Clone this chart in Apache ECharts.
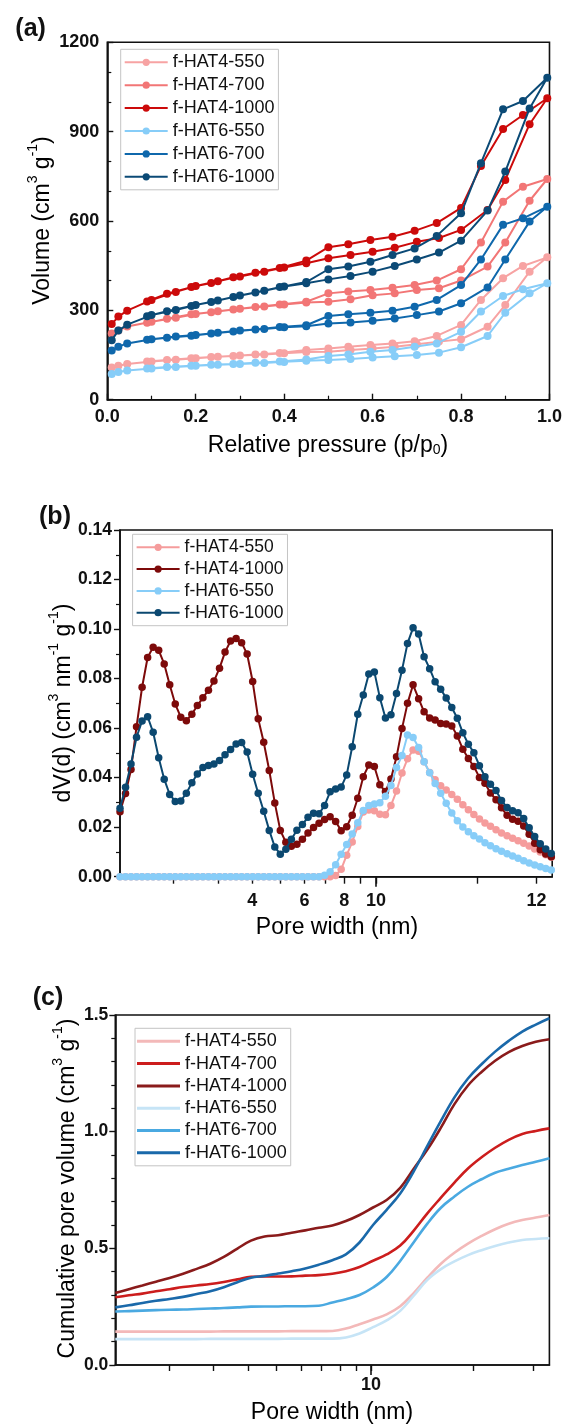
<!DOCTYPE html>
<html>
<head>
<meta charset="utf-8">
<script src="https://cdn.jsdelivr.net/npm/echarts@6/dist/echarts.min.js"></script>
<style>
  html, body { margin: 0; padding: 0; background: #fff; }
  #chart { width: 565px; height: 1425px; }
</style>
</head>
<body>
<div id="chart"></div>
<script>
// ---------- (a) N2 sorption isotherms ----------
const adsP = [0.01, 0.025, 0.045, 0.1, 0.155, 0.2, 0.25, 0.3, 0.355, 0.4, 0.45, 0.5, 0.55, 0.6, 0.65, 0.7, 0.75, 0.8, 0.86, 0.9, 0.955, 0.995];
const desP = [0.94, 0.895, 0.845, 0.8, 0.745, 0.695, 0.645, 0.595, 0.545, 0.5, 0.45, 0.39, 0.335, 0.285, 0.235, 0.19, 0.135, 0.09];

const adsHAT4_550  = [108, 114, 120, 128, 134, 139, 144, 148, 152, 156, 160, 161, 167, 172, 178, 186, 195, 203, 245, 318, 430, 478];
const desHAT4_550  = [449, 408, 335, 251, 214, 196, 189, 184, 178, 172, 167, 157, 152, 147, 143, 139, 133, 128];
const adsHAT4_700  = [222, 232, 246, 262, 275, 288, 297, 305, 313, 320, 326, 329, 337, 351, 357, 368, 374, 400, 447, 528, 668, 741];
const desHAT4_700  = [715, 665, 528, 438, 400, 385, 376, 368, 363, 357, 329, 320, 311, 303, 294, 287, 272, 258];
const adsHAT4_1000 = [254, 279, 299, 335, 362, 382, 398, 414, 430, 444, 458, 475, 486, 497, 510, 530, 543, 570, 637, 738, 925, 1012];
const desHAT4_1000 = [956, 909, 785, 644, 593, 567, 547, 536, 522, 512, 467, 442, 426, 411, 392, 378, 356, 330];
const adsHAT6_550  = [86, 93, 98, 105, 110, 114, 117, 120, 123, 127, 131, 133, 137, 142, 146, 150, 158, 176, 214, 292, 357, 391];
const desHAT6_550  = [371, 348, 296, 228, 189, 178, 167, 161, 152, 147, 135, 128, 124, 120, 117, 114, 110, 105];
const adsHAT6_700  = [165, 178, 189, 203, 212, 217, 225, 232, 237, 243, 247, 256, 259, 265, 273, 284, 296, 324, 377, 471, 598, 648];
const desHAT6_700  = [609, 587, 471, 385, 335, 312, 299, 292, 287, 281, 250, 244, 236, 229, 222, 215, 208, 201];
const adsHAT6_1000 = [200, 232, 252, 284, 301, 318, 333, 350, 366, 380, 391, 404, 415, 430, 449, 471, 494, 534, 635, 766, 978, 1081];
const desHAT6_1000 = [1003, 975, 794, 626, 550, 508, 486, 463, 447, 438, 395, 378, 360, 345, 328, 315, 297, 280];

const pressureTicks = [0, 1, 0.2];      // min, max, interval
const volumeTicks = [0, 1200, 300];

// ---------- (b) pore size distribution ----------
const poreB = [1.735, 1.802, 1.871, 1.943, 2.018, 2.096, 2.177, 2.261, 2.348, 2.438,
  2.532, 2.630, 2.732, 2.837, 2.946, 3.060, 3.178, 3.300, 3.428, 3.560,
  3.697, 3.840, 3.988, 4.141, 4.301, 4.467, 4.639, 4.818, 5.004, 5.196,
  5.397, 5.605, 5.821, 6.045, 6.281, 6.523, 6.774, 7.036, 7.307, 7.588,
  7.881, 8.185, 8.500, 8.829, 9.169, 9.522, 9.890, 10.27, 10.67, 11.08,
  11.51, 11.95, 12.41, 12.89, 13.39, 13.90, 14.44, 14.99, 15.57, 16.17,
  16.80, 17.45, 18.12, 18.82, 19.54, 20.30, 21.08, 21.89, 22.74, 23.61,
  24.53, 25.47, 26.45, 27.48, 28.53, 29.63, 30.78, 31.96, 33.19];

const dvHAT4_550 = [0, 0, 0, 0, 0, 0, 0, 0, 0, 0,
  0, 0, 0, 0, 0, 0, 0, 0, 0, 0,
  0, 0, 0, 0, 0, 0, 0, 0, 0, 0,
  0, 0, 0, 0, 0, 0, 0, 0, 0, 0.0005,
  0.0030, 0.0087, 0.0140, 0.0203, 0.0261, 0.0269, 0.0266, 0.0252, 0.0250, 0.0288,
  0.0346, 0.0419, 0.0476, 0.0512, 0.0507, 0.0464, 0.0421, 0.0391, 0.0367, 0.0350,
  0.0332, 0.0313, 0.0291, 0.0270, 0.0251, 0.0233, 0.0217, 0.0204, 0.0190, 0.0176,
  0.0165, 0.0155, 0.0145, 0.0135, 0.0124, 0.0112, 0.0100, 0.0089, 0.0079];
const dvHAT4_1000 = [0.0262, 0.0336, 0.0433, 0.0606, 0.0765, 0.0885, 0.0927, 0.0914, 0.0859, 0.0775,
  0.0697, 0.0644, 0.0630, 0.0656, 0.0691, 0.0723, 0.0753, 0.0790, 0.0842, 0.0907,
  0.0952, 0.0962, 0.0945, 0.0899, 0.0788, 0.0638, 0.0543, 0.0429, 0.0298, 0.0187,
  0.0139, 0.0123, 0.0131, 0.0151, 0.0176, 0.0199, 0.0216, 0.0231, 0.0242, 0.0223,
  0.0186, 0.0202, 0.0248, 0.0317, 0.0404, 0.0451, 0.0445, 0.0371, 0.0344, 0.0395,
  0.0484, 0.0598, 0.0700, 0.0775, 0.0719, 0.0666, 0.0641, 0.0633, 0.0619, 0.0617,
  0.0609, 0.0568, 0.0515, 0.0477, 0.0445, 0.0401, 0.0377, 0.0338, 0.0311, 0.0278,
  0.0248, 0.0232, 0.0224, 0.0205, 0.0171, 0.0135, 0.0109, 0.0092, 0.0081];
const dvHAT6_550 = [0, 0, 0, 0, 0, 0, 0, 0, 0, 0,
  0, 0, 0, 0, 0, 0, 0, 0, 0, 0,
  0, 0, 0, 0, 0, 0, 0, 0, 0, 0,
  0, 0, 0, 0, 0, 0, 0, 0.0006, 0.0020, 0.0048,
  0.0091, 0.0130, 0.0172, 0.0218, 0.0267, 0.0288, 0.0294, 0.0299, 0.0325, 0.0368,
  0.0441, 0.0489, 0.0572, 0.0562, 0.0522, 0.0464, 0.0420, 0.0376, 0.0337, 0.0297,
  0.0257, 0.0226, 0.0201, 0.0182, 0.0165, 0.0152, 0.0137, 0.0125, 0.0113, 0.0103,
  0.0093, 0.0084, 0.0074, 0.0064, 0.0055, 0.0047, 0.0040, 0.0033, 0.0027];
const dvHAT6_1000 = [0.0276, 0.0361, 0.0455, 0.0563, 0.0629, 0.0646, 0.0583, 0.0480, 0.0394, 0.0332,
  0.0304, 0.0306, 0.0337, 0.0379, 0.0415, 0.0441, 0.0449, 0.0455, 0.0469, 0.0492,
  0.0514, 0.0536, 0.0542, 0.0504, 0.0414, 0.0337, 0.0264, 0.0187, 0.0120, 0.0091,
  0.0111, 0.0151, 0.0188, 0.0211, 0.0240, 0.0256, 0.0254, 0.0288, 0.0343, 0.0354,
  0.0362, 0.0411, 0.0525, 0.0656, 0.0734, 0.0819, 0.0827, 0.0723, 0.0641, 0.0654,
  0.0740, 0.0834, 0.0942, 0.1005, 0.0980, 0.0888, 0.0840, 0.0787, 0.0757, 0.0722,
  0.0683, 0.0640, 0.0581, 0.0535, 0.0501, 0.0448, 0.0404, 0.0373, 0.0348, 0.0308,
  0.0279, 0.0266, 0.0258, 0.0235, 0.0198, 0.0162, 0.0133, 0.0112, 0.0094];

const widthTicksB = [2.50, 3.39, 4.29, 5.19, 6.13, 7.08, 8.05, 8.98, 10, 20, 30];
const widthLabelValuesB = [4.29, 6.13, 8.05, 10, 30];
const widthLabelTextB = ['4', '6', '8', '10', '12'];
const dvTicks = [0, 0.14, 0.02];

// ---------- (c) cumulative pore volume ----------
const poreC = [1.769, 1.939, 2.126, 2.330, 2.555, 2.801, 3.071, 3.366, 3.690, 4.046,
  4.435, 4.862, 5.331, 5.843, 6.406, 7.023, 7.698, 8.439, 9.251, 10.14,
  11.12, 12.19, 13.36, 14.65, 16.06, 17.60, 19.29, 21.15, 23.19, 25.42,
  27.87, 30.55, 33.49];

const cumHAT4_550 = [0.143, 0.143, 0.143, 0.143, 0.143, 0.143, 0.143, 0.143, 0.144, 0.144,
  0.144, 0.144, 0.144, 0.145, 0.145, 0.145, 0.146, 0.156, 0.175, 0.195,
  0.217, 0.252, 0.308, 0.374, 0.434, 0.481, 0.520, 0.553, 0.582, 0.605,
  0.621, 0.632, 0.643];
const cumHAT4_700 = [0.290, 0.299, 0.306, 0.316, 0.325, 0.334, 0.341, 0.347, 0.356, 0.367,
  0.378, 0.379, 0.379, 0.380, 0.383, 0.385, 0.391, 0.402, 0.420, 0.447,
  0.474, 0.512, 0.576, 0.650, 0.717, 0.782, 0.842, 0.890, 0.931, 0.965,
  0.990, 1.003, 1.014];
const cumHAT4_1000 = [0.309, 0.325, 0.341, 0.357, 0.373, 0.391, 0.412, 0.434, 0.463, 0.499,
  0.533, 0.551, 0.556, 0.567, 0.577, 0.588, 0.598, 0.617, 0.643, 0.675,
  0.707, 0.759, 0.841, 0.923, 1.017, 1.118, 1.198, 1.256, 1.304, 1.341,
  1.367, 1.385, 1.396];
const cumHAT6_550 = [0.111, 0.111, 0.111, 0.111, 0.111, 0.111, 0.111, 0.112, 0.112, 0.112,
  0.112, 0.112, 0.112, 0.113, 0.113, 0.113, 0.113, 0.118, 0.135, 0.162,
  0.191, 0.232, 0.297, 0.365, 0.411, 0.444, 0.471, 0.492, 0.510, 0.525,
  0.536, 0.540, 0.543];
const cumHAT6_700 = [0.229, 0.231, 0.233, 0.235, 0.237, 0.238, 0.240, 0.242, 0.244, 0.247,
  0.250, 0.251, 0.251, 0.252, 0.252, 0.254, 0.268, 0.282, 0.300, 0.332,
  0.377, 0.446, 0.526, 0.606, 0.674, 0.722, 0.764, 0.796, 0.824, 0.841,
  0.857, 0.871, 0.886];
const cumHAT6_1000 = [0.247, 0.256, 0.266, 0.275, 0.283, 0.292, 0.304, 0.316, 0.333, 0.355,
  0.374, 0.382, 0.392, 0.402, 0.414, 0.430, 0.449, 0.474, 0.525, 0.600,
  0.665, 0.735, 0.830, 0.939, 1.046, 1.147, 1.228, 1.289, 1.343, 1.389,
  1.429, 1.459, 1.486];

const widthTicksC = [2.55, 3.44, 4.36, 5.28, 6.23, 7.16, 8.11, 9.08, 10, 20, 30];
const widthLabelValuesC = [10];
const widthLabelTextC = ['10'];
const cumTicks = [0, 1.5, 0.5];

// ---------- styling ----------
const FONT = "'Liberation Sans', Arial, Helvetica, sans-serif";
const BLACK = '#111';

const colorsA = ['#f7a3a3', '#f27676', '#cc0a0a', '#87cdf8', '#0f68ac', '#0b4a76'];
const colorsB = ['#f59c9c', '#7d0a0a', '#87cdf8', '#0b4870'];
const colorsC = ['#f3b9b9', '#cc1d1d', '#8a1b1b', '#c6e4f6', '#4aa9e1', '#1a69aa'];

const namesA = ['f-HAT4-550', 'f-HAT4-700', 'f-HAT4-1000', 'f-HAT6-550', 'f-HAT6-700', 'f-HAT6-1000'];
const namesB = ['f-HAT4-550', 'f-HAT4-1000', 'f-HAT6-550', 'f-HAT6-1000'];
const namesC = namesA;

const pair = (xs, ys) => xs.map((x, i) => [x, ys[i]]);
const loop = (ads, des) => pair(adsP, ads).concat(pair(desP, des));

const isothermSets = [
  [adsHAT4_550, desHAT4_550], [adsHAT4_700, desHAT4_700], [adsHAT4_1000, desHAT4_1000],
  [adsHAT6_550, desHAT6_550], [adsHAT6_700, desHAT6_700], [adsHAT6_1000, desHAT6_1000]
];
const psdSets = [dvHAT4_550, dvHAT4_1000, dvHAT6_550, dvHAT6_1000];
const cumSets = [cumHAT4_550, cumHAT4_700, cumHAT4_1000, cumHAT6_550, cumHAT6_700, cumHAT6_1000];

const tickLabel = (dec) => ({
  fontFamily: FONT, fontSize: 18, fontWeight: 'bold', color: BLACK,
  formatter: (v) => (dec === null ? String(v) : Number(v).toFixed(dec))
});

const axisLineStyle = { lineStyle: { color: BLACK, width: 1.6 } };

const series = [];
isothermSets.forEach((s, i) => {
  series.push({
    name: namesA[i] + '|a', type: 'line', xAxisIndex: 0, yAxisIndex: 0,
    data: loop(s[0], s[1]), symbol: 'circle', symbolSize: 8, showSymbol: true,
    lineStyle: { width: 2, color: colorsA[i] }, itemStyle: { color: colorsA[i] },
    emphasis: { disabled: true }, z: 2 + i
  });
});
psdSets.forEach((s, i) => {
  series.push({
    name: namesB[i] + '|b', type: 'line', xAxisIndex: 1, yAxisIndex: 1,
    data: pair(poreB, s), symbol: 'circle', symbolSize: 7.5, showSymbol: true,
    lineStyle: { width: 2, color: colorsB[i] }, itemStyle: { color: colorsB[i] },
    emphasis: { disabled: true }, z: 2 + i
  });
});
cumSets.forEach((s, i) => {
  series.push({
    name: namesC[i] + '|c', type: 'line', xAxisIndex: 3, yAxisIndex: 2,
    data: pair(poreC, s), symbol: 'none', smooth: 0.4,
    lineStyle: { width: 2.6, color: colorsC[i] }, itemStyle: { color: colorsC[i] },
    emphasis: { disabled: true }, z: 2 + i
  });
});

const legendBase = {
  orient: 'vertical', selectedMode: false,
  backgroundColor: '#fff', borderColor: '#c4c4c4', borderWidth: 1, borderRadius: 0,
  itemWidth: 43, itemHeight: 9,
  textStyle: { fontFamily: FONT, fontSize: 18, color: BLACK, lineHeight: 18 },
  formatter: (name) => name.split('|')[0]
};

const titleRich = {
  t: { fontFamily: FONT, fontSize: 23, color: BLACK, lineHeight: 28, verticalAlign: 'bottom' },
  s: { fontFamily: FONT, fontSize: 14, color: BLACK, lineHeight: 14, verticalAlign: 'top' },
  b: { fontFamily: FONT, fontSize: 14, color: BLACK, lineHeight: 14, verticalAlign: 'bottom' }
};
const titleText = (x, y, text, rotate) => ({
  type: 'text', x: x, y: y, rotation: rotate ? Math.PI / 2 : 0,
  style: { text: text, rich: titleRich, align: 'center', verticalAlign: 'middle' }
});
const panelTag = (x, y, text) => ({
  type: 'text', x: x, y: y,
  style: { text: text, fontFamily: FONT, fontSize: 25, fontWeight: 'bold', fill: BLACK, align: 'center', verticalAlign: 'middle' }
});

const logOverlay = (gridIndex, minV, maxV, values) => ({
  type: 'log', gridIndex: gridIndex, min: minV, max: maxV, position: 'bottom',
  axisLine: { show: false }, axisLabel: { show: false }, splitLine: { show: false },
  axisTick: { show: true, length: 10, customValues: values, lineStyle: { color: BLACK, width: 1.6 } }
});

const option = {
  animation: false,
  backgroundColor: '#fff',
  grid: [
    { left: 107.3, top: 42.3, width: 442.8, height: 357.4, show: true, borderColor: BLACK, borderWidth: 1.6, containLabel: false },
    { left: 120, top: 530, width: 432.2, height: 346.7, show: true, borderColor: BLACK, borderWidth: 1.6, containLabel: false },
    { left: 115.3, top: 1015, width: 434.1, height: 350, show: true, borderColor: BLACK, borderWidth: 1.6, containLabel: false }
  ],
  xAxis: [
    {
      type: 'value', gridIndex: 0, min: pressureTicks[0], max: pressureTicks[1], interval: pressureTicks[2],
      axisLine: axisLineStyle, splitLine: { show: false },
      axisTick: { inside: true, length: 6, lineStyle: { color: BLACK, width: 1.4 } },
      minorTick: { show: true, splitNumber: 2, length: 4, lineStyle: { color: BLACK, width: 1.2 } },
      axisLabel: Object.assign({ margin: 8 }, tickLabel(1))
    },
    {
      type: 'log', gridIndex: 1, min: poreB[0], max: 33.4, position: 'bottom',
      axisLine: axisLineStyle, splitLine: { show: false },
      axisTick: { show: true, length: 7, customValues: widthTicksB, lineStyle: { color: BLACK, width: 1.4 } },
      axisLabel: {
        customValues: widthLabelValuesB, margin: 15,
        fontFamily: FONT, fontSize: 18, fontWeight: 'bold', color: BLACK,
        formatter: (v) => {
          let k = 0;
          widthLabelValuesB.forEach((t, i) => { if (Math.abs(t - v) < Math.abs(widthLabelValuesB[k] - v)) k = i; });
          return widthLabelTextB[k];
        }
      }
    },
    logOverlay(1, poreB[0], 33.4, [10]),
    {
      type: 'log', gridIndex: 2, min: poreC[0], max: poreC[poreC.length - 1], position: 'bottom',
      axisLine: axisLineStyle, splitLine: { show: false },
      axisTick: { show: true, length: 6, customValues: widthTicksC, lineStyle: { color: BLACK, width: 1.4 } },
      axisLabel: {
        customValues: widthLabelValuesC, margin: 11,
        fontFamily: FONT, fontSize: 18, fontWeight: 'bold', color: BLACK,
        formatter: (v) => widthLabelTextC[0]
      }
    },
    logOverlay(2, poreC[0], poreC[poreC.length - 1], [10])
  ],
  yAxis: [
    {
      type: 'value', gridIndex: 0, min: volumeTicks[0], max: volumeTicks[1], interval: volumeTicks[2],
      axisLine: axisLineStyle, splitLine: { show: false },
      axisTick: { inside: true, length: 6, lineStyle: { color: BLACK, width: 1.4 } },
      minorTick: { show: true, splitNumber: 3, length: 4, lineStyle: { color: BLACK, width: 1.2 } },
      axisLabel: Object.assign({ margin: 8 }, tickLabel(null))
    },
    {
      type: 'value', gridIndex: 1, min: dvTicks[0], max: dvTicks[1], interval: dvTicks[2],
      axisLine: axisLineStyle, splitLine: { show: false },
      axisTick: { inside: false, length: 6, lineStyle: { color: BLACK, width: 1.4 } },
      minorTick: { show: true, splitNumber: 2, length: 4, lineStyle: { color: BLACK, width: 1.2 } },
      axisLabel: Object.assign({ margin: 8 }, tickLabel(2), { fontSize: 17.5 })
    },
    {
      type: 'value', gridIndex: 2, min: cumTicks[0], max: cumTicks[1], interval: cumTicks[2],
      axisLine: axisLineStyle, splitLine: { show: false },
      axisTick: { inside: false, length: 6, lineStyle: { color: BLACK, width: 1.4 } },
      minorTick: { show: true, splitNumber: 5, length: 4, lineStyle: { color: BLACK, width: 1.2 } },
      axisLabel: Object.assign({ margin: 7 }, tickLabel(1), { fontSize: 17.5 })
    }
  ],
  legend: [
    Object.assign({}, legendBase, {
      left: 120.7, top: 49.3, padding: [4, 4, 4, 3], itemGap: 4.9,
      data: namesA.map((n) => n + '|a')
    }),
    Object.assign({}, legendBase, {
      left: 132.6, top: 534.3, padding: [4, 4, 4, 3], itemGap: 3.8,
      textStyle: { fontFamily: FONT, fontSize: 17.5, color: BLACK, lineHeight: 18 },
      data: namesB.map((n) => n + '|b')
    }),
    Object.assign({}, legendBase, {
      left: 135, top: 1028.3, padding: [4, 4, 4, 2], itemGap: 4.3,
      itemHeight: 3, icon: 'rect',
      data: namesC.map((n) => n + '|c')
    })
  ],
  graphic: [
    panelTag(30.6, 29, '(a)'),
    panelTag(55, 516.7, '(b)'),
    panelTag(48, 998, '(c)'),
    titleText(328, 443, '{t|Relative pressure (p/p}{b|0}{t|)}', false),
    titleText(40, 220.5, '{t|Volume (cm}{s|3}{t| g}{s|-1}{t|)}', true),
    titleText(337, 925, '{t|Pore width (nm)}', false),
    titleText(61.2, 703, '{t|dV(d) (cm}{s|3}{t| nm}{s|-1}{t| g}{s|-1}{t|)}', true),
    titleText(332, 1410, '{t|Pore width (nm)}', false),
    titleText(64.8, 1188.5, '{t|Cumulative pore volume (cm}{s|3}{t| g}{s|-1}{t|)}', true)
  ],
  series: series
};

const chart = echarts.init(document.getElementById('chart'), null, { renderer: 'canvas', width: 565, height: 1425 });
chart.setOption(option);
</script>
</body>
</html>
